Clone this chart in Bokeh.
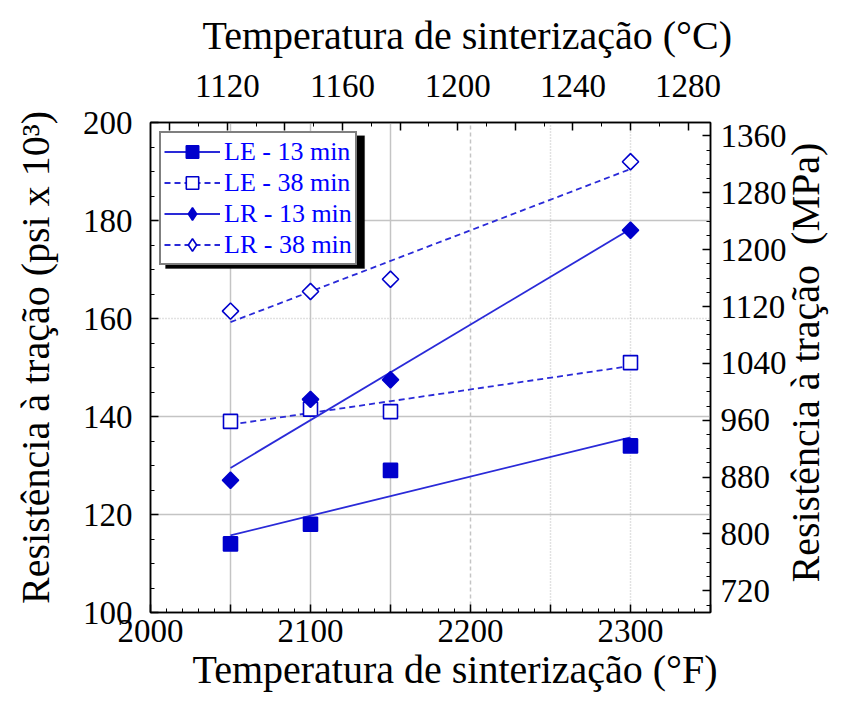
import numpy as np
from bokeh.plotting import figure
from bokeh.models import (Range1d, LinearAxis, FixedTicker, SingleIntervalTicker,
                          Grid, Legend, LegendItem, BoxAnnotation, Title)
from bokeh.embed import file_html
from bokeh.resources import INLINE

# Sintering temperature (°F) and tensile strength (psi x 10^3)
temp_f = [2050, 2100, 2150, 2300]
le_13 = [114, 118, 129, 134]
le_38 = [139, 141.5, 141, 151]
lr_13 = [127, 143.5, 147.5, 178]
lr_38 = [161.5, 165.5, 168, 192]

series_labels = ["LE - 13 min", "LE - 38 min", "LR - 13 min", "LR - 38 min"]

# Axis ticks
f_major = [2000, 2050, 2100, 2150, 2200, 2250, 2300, 2350]
f_labels = ["2000", "", "2100", "", "2200", "", "2300", ""]
c_major = [1100, 1120, 1140, 1160, 1180, 1200, 1220, 1240, 1260, 1280]
c_labels = ["", "1120", "", "1160", "", "1200", "", "1240", "", "1280"]

NBSP = "\u00a0"
title_f = "Temperatura de sinterização (°F)"
title_c = "Temperatura de sinterização (°C)"
# non-breaking spaces keep their width inside SVG text
title_ksi = NBSP * 2 + "Resistência à tração (psi x 10³)"
title_mpa = NBSP * 3 + "Resistência à tração " + NBSP + "(MPa)"

PSI_TO_MPA = 6.894757
F_MIN, F_MAX = 2000, 2350
KSI_MIN, KSI_MAX = 100, 200

SERIF = "Liberation Serif"
BLUE = "#0000cc"
LINE_BLUE = "#2a2ad8"

p = figure(width=853, height=704,
           x_range=Range1d(F_MIN, F_MAX), y_range=Range1d(KSI_MIN, KSI_MAX),
           output_backend="svg", toolbar_location=None,
           min_border_left=150, min_border_right=141,
           min_border_top=122, min_border_bottom=92)
p.background_fill_color = "white"
p.border_fill_color = "white"
p.outline_line_color = "black"
p.outline_line_width = 1.5
p.xgrid.visible = False
p.ygrid.visible = False

# Secondary ranges: °C on top, MPa on the right
p.extra_x_ranges = {"C": Range1d((F_MIN - 32) * 5 / 9, (F_MAX - 32) * 5 / 9)}
p.extra_y_ranges = {"MPa": Range1d(KSI_MIN * PSI_TO_MPA, KSI_MAX * PSI_TO_MPA)}


def style_axis(ax, tick_size="33px"):
    ax.major_label_text_font = SERIF
    ax.major_label_text_font_size = tick_size
    ax.major_label_text_color = "black"
    ax.axis_label_text_font = SERIF
    ax.axis_label_text_font_size = "40px"
    ax.axis_label_text_font_style = "normal"
    ax.axis_label_text_color = "black"
    ax.axis_line_color = "black"
    ax.axis_line_width = 1.5
    ax.major_tick_in = 8
    ax.major_tick_out = 0
    ax.minor_tick_in = 4
    ax.minor_tick_out = 0
    ax.major_tick_line_color = "black"
    ax.minor_tick_line_color = "black"
    ax.major_tick_line_width = 1.5


# Bottom axis (°F)
xb = p.xaxis[0]
xb.ticker = FixedTicker(ticks=f_major, minor_ticks=list(range(F_MIN, F_MAX + 1, 10)))
xb.major_label_overrides = {t: s for t, s in zip(f_major, f_labels)}
style_axis(xb)
xb.major_label_standoff = 7

# Left axis (psi x 10^3)
yl = p.yaxis[0]
yl.ticker = SingleIntervalTicker(interval=20, num_minor_ticks=4)
style_axis(yl)
yl.major_label_standoff = 18
yl.axis_label = title_ksi
yl.axis_label_standoff = 22

# Top axis (°C)
xt = LinearAxis(x_range_name="C")
xt.ticker = FixedTicker(ticks=c_major, minor_ticks=list(range(1100, 1290, 10)))
xt.major_label_overrides = {t: s for t, s in zip(c_major, c_labels)}
style_axis(xt)
xt.major_label_standoff = 26
p.add_layout(xt, "above")

# Right axis (MPa); its label reads upward from the bottom of the frame
yr = LinearAxis(y_range_name="MPa")
yr.ticker = SingleIntervalTicker(interval=80, num_minor_ticks=4)
style_axis(yr)
yr.major_label_standoff = 10
yr.axis_label = title_mpa
yr.axis_label_standoff = 16
yr.axis_label_orientation = np.pi / 2
yr.axis_label_align = "start"
p.add_layout(yr, "right")

# Horizontal axis titles
p.add_layout(Title(text=title_c, align="left", offset=52, standoff=23,
                   vertical_align="top",
                   text_font=SERIF, text_font_size="40px",
                   text_font_style="normal", text_color="black"), "above")
p.add_layout(Title(text=title_f, align="left", offset=42, standoff=0,
                   text_font=SERIF, text_font_size="40px",
                   text_font_style="normal", text_color="black"), "below")

# Grid lines
GRID = "#c4c4c4"
for dim, ticks, dash in [(0, [2050, 2100, 2150], "solid"),
                         (0, [2200], "4 3"),
                         (0, [2250, 2300], "1 2"),
                         (1, [120, 140, 180], "solid"),
                         (1, [160], "1 2")]:
    g = Grid(dimension=dim, ticker=FixedTicker(ticks=ticks),
             grid_line_color=GRID, grid_line_width=1.5, grid_line_dash=dash)
    p.add_layout(g)


def fit_line(xs, ys):
    k, b = np.polyfit(xs, ys, 1)
    xe = [min(xs), max(xs)]
    return xe, [k * x + b for x in xe]


# Each series: measured points plus a least-squares trend line
legend_items = []
specs = [
    (le_13, "solid", BLUE, 14, 0, "square"),
    (le_38, "6 4", "white", 14, 0, "square"),
    (lr_13, "solid", BLUE, 11.5, np.pi / 4, "diamond"),
    (lr_38, "6 4", "white", 11.5, np.pi / 4, "diamond"),
]
for lab, (ys, dash, fill, size, ang, key_marker) in zip(series_labels, specs):
    fx, fy = fit_line(temp_f, ys)
    ln = p.line(fx, fy, line_color=LINE_BLUE, line_width=1.8, line_dash=dash)
    sc = p.scatter(temp_f, ys, marker="square", size=size, angle=ang,
                   fill_color=fill, line_color=BLUE, line_width=1.6)
    if key_marker == "square":
        key = sc
    else:
        # zero-size twin so the legend key shows an upright diamond
        key = p.scatter(temp_f, ys, marker="diamond", size=0,
                        fill_color=fill, line_color=BLUE, line_width=1.6)
    legend_items.append(LegendItem(label=lab, renderers=[ln, key]))

# Legend with a drop shadow
shadow = BoxAnnotation(left=2009.4, right=2133.8, top=197.3, bottom=170.2,
                       fill_color="black", fill_alpha=1.0, line_color="black")
p.add_layout(shadow)

legend = Legend(items=legend_items,
                location="top_left", margin=9, padding=3, spacing=0,
                glyph_width=56, glyph_height=31, label_height=31,
                label_standoff=4,
                label_text_font=SERIF, label_text_font_size="26px",
                label_text_color="#0000ff",
                border_line_color="black", border_line_width=2,
                background_fill_color="white", background_fill_alpha=1.0)
p.add_layout(legend)

open("out.html", "w").write(file_html(p, INLINE))
